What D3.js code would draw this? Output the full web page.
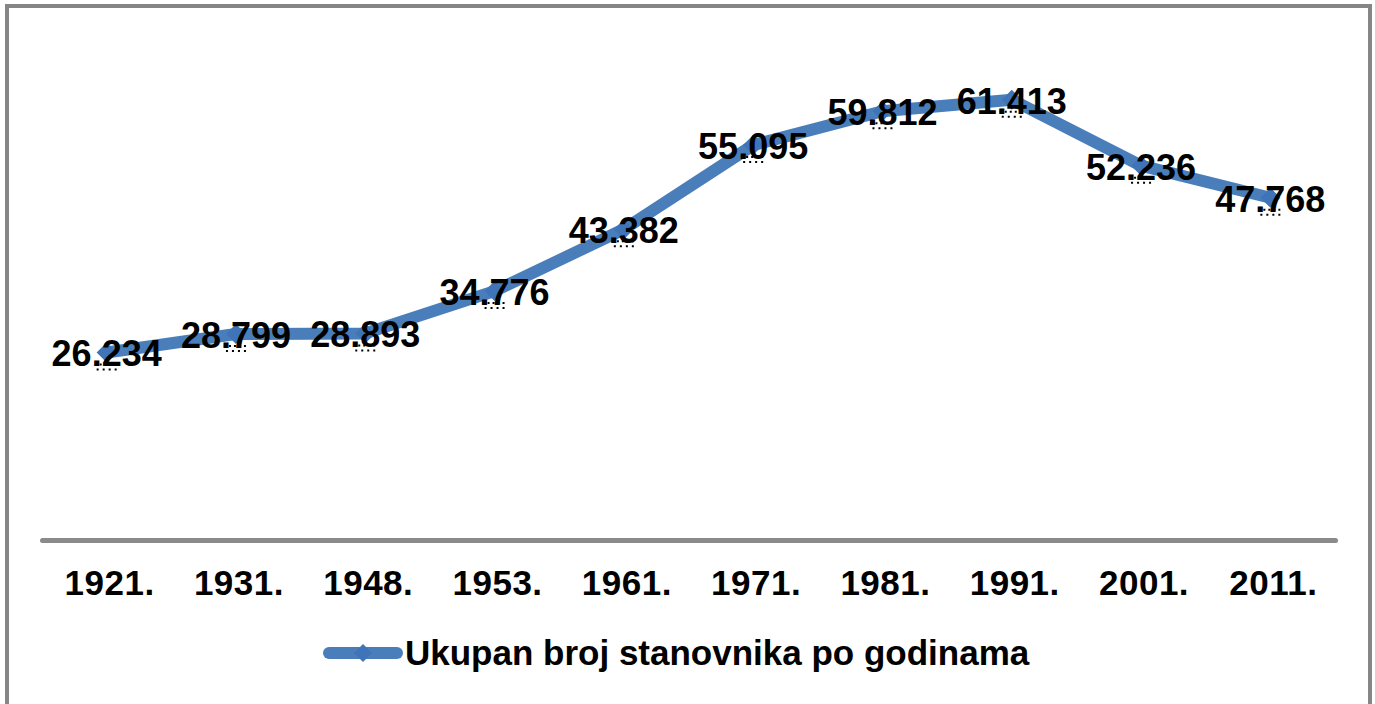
<!DOCTYPE html>
<html>
<head>
<meta charset="utf-8">
<script src="https://cdn.jsdelivr.net/npm/d3@7"></script>
<style>
  body { margin: 0; background: #fff; }
  text { font-family: "Liberation Sans", Arial, sans-serif; font-weight: bold; fill: #000; }
</style>
</head>
<body>
<div id="chart"></div>
<script>
// Data
var years = ["1921.", "1931.", "1948.", "1953.", "1961.", "1971.", "1981.", "1991.", "2001.", "2011."];
var population = [26234, 28799, 28893, 34776, 43382, 55095, 59812, 61413, 52236, 47768];
var seriesName = "Ukupan broj stanovnika po godinama";

var width = 1375, height = 704;
var blue = "#4a7ebb";

var svg = d3.select("#chart").append("svg")
    .attr("width", width)
    .attr("height", height);

// outer frame
svg.append("rect")
    .attr("x", 7).attr("y", 6)
    .attr("width", 1363).attr("height", 720)
    .attr("fill", "none")
    .attr("stroke", "#868686")
    .attr("stroke-width", 4);

var x = d3.scaleBand()
    .domain(years)
    .range([42, 1335]);

var y = d3.scaleLinear()
    .domain([0, 70000])
    .range([541, 38]);

// category axis
var xAxis = svg.append("g")
    .attr("transform", "translate(0," + 540 + ")")
    .call(d3.axisBottom(x).tickSize(0).tickPadding(0));
xAxis.select(".domain")
    .attr("stroke", "#8a8a8a")
    .attr("stroke-width", 5)
    .attr("stroke-linecap", "round");
xAxis.selectAll("text")
    .attr("dy", null)
    .attr("y", 55)
    .attr("x", 3)
    .style("font-size", "35px")
    .style("font-family", "'Liberation Sans', Arial, sans-serif")
    .style("font-weight", "bold")
    .style("letter-spacing", "0.5px")
    .attr("fill", "#000");

var cx = function(d, i) { return x(years[i]) + x.bandwidth() / 2; };
var cy = function(d) { return y(d); };

// the line
var line = d3.line()
    .x(cx)
    .y(cy);

svg.append("path")
    .datum(population)
    .attr("d", line)
    .attr("fill", "none")
    .attr("stroke", blue)
    .attr("stroke-width", 12)
    .attr("stroke-linejoin", "round")
    .attr("stroke-linecap", "round");

// diamond markers
function diamond(s) {
    return "M0," + (-s) + "L" + s + ",0L0," + s + "L" + (-s) + ",0Z";
}

var pts = svg.append("g").selectAll("g")
    .data(population)
    .enter().append("g")
    .attr("transform", function(d, i) {
        return "translate(" + cx(d, i) + "," + cy(d) + ")";
    });

pts.append("path")
    .attr("d", diamond(10))
    .attr("fill", "#3f74b8");

// little dotted shadow under each marker
pts.append("line")
    .attr("x1", -12).attr("x2", 12)
    .attr("y1", 12).attr("y2", 12)
    .attr("stroke", "#000")
    .attr("stroke-width", 2)
    .attr("stroke-dasharray", "2,3");
pts.append("line")
    .attr("x1", -10).attr("x2", 10)
    .attr("y1", 17).attr("y2", 17)
    .attr("stroke", "#000")
    .attr("stroke-width", 2)
    .attr("stroke-dasharray", "2,4");

// data labels
svg.append("g").selectAll("text")
    .data(population)
    .enter().append("text")
    .attr("x", cx)
    .attr("y", function(d) { return cy(d) + 14; })
    .attr("text-anchor", "middle")
    .style("font-size", "36px")
    .text(function(d) { return d3.format(",")(d).replace(",", "."); });

// legend
var legend = svg.append("g").attr("transform", "translate(0,653)");
legend.append("line")
    .attr("x1", 329).attr("x2", 397)
    .attr("y1", 0).attr("y2", 0)
    .attr("stroke", blue)
    .attr("stroke-width", 12)
    .attr("stroke-linecap", "round");
legend.append("path")
    .attr("transform", "translate(363,0)")
    .attr("d", diamond(9))
    .attr("fill", "#3f74b8");
legend.append("text")
    .attr("x", 405)
    .attr("y", 12)
    .style("font-size", "35px")
    .text(seriesName);
</script>
</body>
</html>
